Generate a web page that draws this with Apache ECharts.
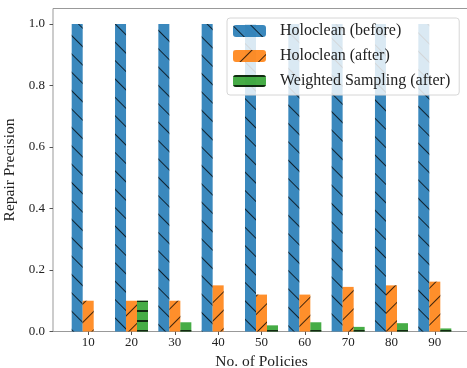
<!DOCTYPE html>
<html>
<head>
<meta charset="utf-8">
<script src="https://cdn.jsdelivr.net/npm/echarts@6/dist/echarts.min.js"></script>
<style>html,body{margin:0;padding:0;background:#fff}#c{width:467px;height:368px}</style>
</head>
<body>
<div id="c"></div>
<script>
var categories = [10, 20, 30, 40, 50, 60, 70, 80, 90];
var holocleanBefore = [1.0, 1.0, 1.0, 1.0, 1.0, 1.0, 1.0, 1.0, 1.0];
var holocleanAfter = [0.10, 0.10, 0.10, 0.15, 0.12, 0.12, 0.145, 0.15, 0.162];
var weightedAfter = [0.0, 0.10, 0.03, 0.0, 0.02, 0.03, 0.015, 0.027, 0.01];
var yTicks = [0, 0.2, 0.4, 0.6, 0.8, 1.0];
var seriesNames = ['Holoclean (before)', 'Holoclean (after)', 'Weighted Sampling (after)'];

function pairs(vals) { return categories.map(function (c, i) { return [c, vals[i]]; }); }

var FONT = 'Liberation Serif';
var chart = echarts.init(document.getElementById('c'), null, { renderer: 'canvas' });

function mkSeries(name, vals, color, decal) {
  return {
    name: name, type: 'bar', data: pairs(vals),
    barWidth: 11, barGap: '0%',
    itemStyle: { color: color, opacity: 0.88, decal: decal },
    emphasis: { disabled: true }
  };
}

chart.setOption({
  animation: false,
  aria: { enabled: false },
  grid: { left: 53, right: -3, top: 8.5, bottom: 36.5, show: true, borderColor: '#999', borderWidth: 1,
    outerBoundsMode: 'none', containLabel: false },
  legend: {
    orient: 'vertical', left: 227, top: 18,
    data: seriesNames,
    itemWidth: 33, itemHeight: 12, itemGap: 9,
    padding: [5, 9, 6, 6],
    backgroundColor: 'rgba(255,255,255,0.82)',
    borderColor: '#d6d6d6', borderWidth: 1, borderRadius: 3,
    textStyle: { fontFamily: FONT, fontSize: 16, color: '#222', padding: [0, 0, 0, 9] }
  },
  xAxis: {
    type: 'value', min: 1.875, max: 98.125,
    name: 'No. of Policies', nameLocation: 'middle', nameGap: 21,
    nameTextStyle: { fontFamily: FONT, fontSize: 15.5, color: '#222' },
    axisLine: { show: false },
    axisTick: { show: true, length: 3.5, customValues: categories, lineStyle: { color: '#555' } },
    axisLabel: { customValues: categories, margin: 5, fontFamily: FONT, fontSize: 13, color: '#222' },
    splitLine: { show: false }
  },
  yAxis: {
    type: 'value', min: 0, max: 1.05,
    name: 'Repair Precision', nameLocation: 'middle', nameGap: 26,
    nameTextStyle: { fontFamily: FONT, fontSize: 15.5, color: '#222' },
    axisLine: { show: false },
    axisTick: { show: true, length: 3.5, customValues: yTicks, lineStyle: { color: '#555' } },
    axisLabel: { customValues: yTicks, margin: 8, fontFamily: FONT, fontSize: 13, color: '#222',
      formatter: function (v) { return v.toFixed(1); } },
    splitLine: { show: false }
  },
  series: [
    mkSeries(seriesNames[0], holocleanBefore, '#1f77b4',
      { symbol: 'rect', symbolSize: 1, color: 'rgba(0,0,0,0.85)', dashArrayX: [1, 0], dashArrayY: [1, 12], rotation: Math.PI / 4 }),
    mkSeries(seriesNames[1], holocleanAfter, '#ff7f0e',
      { symbol: 'rect', symbolSize: 1, color: 'rgba(0,0,0,0.85)', dashArrayX: [1, 0], dashArrayY: [1, 12], rotation: -Math.PI / 4 }),
    mkSeries(seriesNames[2], weightedAfter, '#2ca02c',
      { symbol: 'rect', symbolSize: 1, color: 'rgba(0,0,0,0.85)', dashArrayX: [1, 0], dashArrayY: [1.3, 7.7], rotation: 0 })
  ]
});
</script>
</body>
</html>
